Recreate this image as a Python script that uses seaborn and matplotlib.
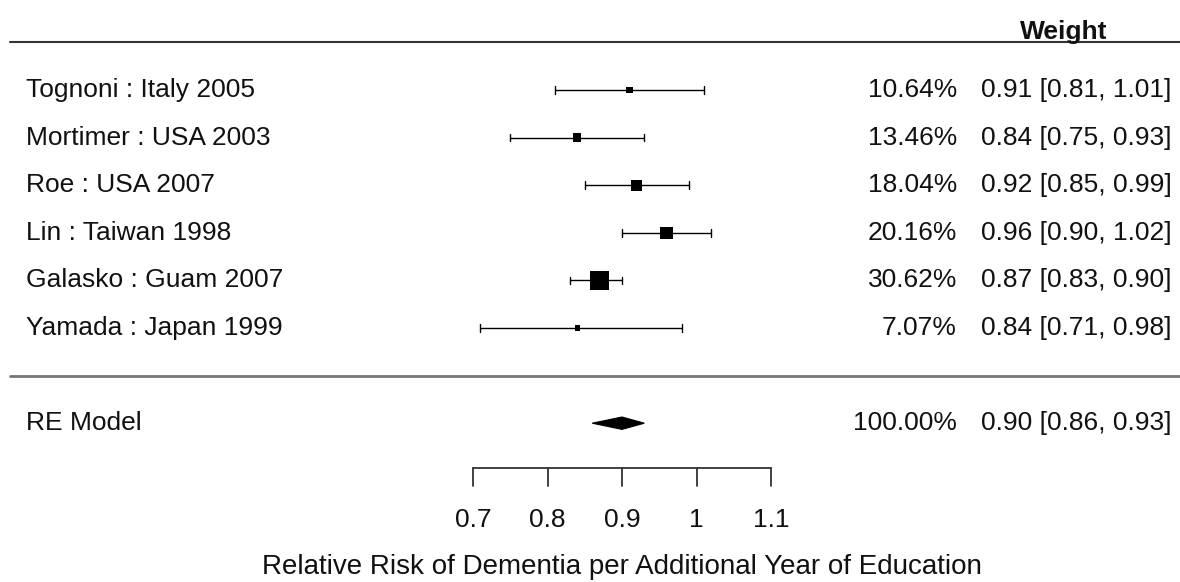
import matplotlib
matplotlib.use("Agg")
import matplotlib.pyplot as plt
import matplotlib.transforms as mtransforms
import seaborn as sns
import pandas as pd
import numpy as np

studies = ["Tognoni : Italy 2005", "Mortimer : USA 2003", "Roe : USA 2007",
           "Lin : Taiwan 1998", "Galasko : Guam 2007", "Yamada : Japan 1999"]
estimates = [0.91, 0.84, 0.92, 0.96, 0.87, 0.84]
ci_low = [0.81, 0.75, 0.85, 0.90, 0.83, 0.71]
ci_high = [1.01, 0.93, 0.99, 1.02, 0.90, 0.98]
weights = [10.64, 13.46, 18.04, 20.16, 30.62, 7.07]

re_label = "RE Model"
re_est, re_low, re_high, re_weight = 0.90, 0.86, 0.93, 100.00

tick_values = [0.7, 0.8, 0.9, 1.0, 1.1]
tick_labels = ["0.7", "0.8", "0.9", "1", "1.1"]
xlabel = "Relative Risk of Dementia per Additional Year of Education"

sns.set_theme(style="white")
plt.rcParams['font.family'] = ['Liberation Sans', 'DejaVu Sans']

df = pd.DataFrame({"study": studies, "est": estimates, "lo": ci_low,
                   "hi": ci_high, "w": weights})
df["row"] = np.arange(len(df))

fig = plt.figure(figsize=(11.8, 5.82), dpi=100)
ax = fig.add_axes([0, 0, 1, 1])
ax.set_axis_off()
px = 1.0 / 745.0
x0 = 0.7 - 473 * px
ax.set_xlim(x0, x0 + 1180 * px)
ax.set_ylim((582 - 90) / 47.6, -90 / 47.6)

trans = mtransforms.blended_transform_factory(ax.transAxes, ax.transData)
fs = 19
tc = "#111111"

# CI lines with end caps
for _, r in df.iterrows():
    ax.plot([r.lo, r.hi], [r.row, r.row], color="black", lw=1.0, solid_capstyle="butt")
    for xv in (r.lo, r.hi):
        ax.plot([xv, xv], [r.row - 0.08, r.row + 0.08], color="black", lw=1.0)

# squares, side proportional to weight
side_pt = 19 * 0.72 * df["w"] / df["w"].max()
sizes = np.maximum(side_pt, 3.8) ** 2
sns.scatterplot(data=df, x="est", y="row", marker="s", s=sizes, color="black",
                edgecolor="black", linewidth=0, ax=ax, legend=False, zorder=3)

# diamond for RE model
re_row = len(df) + 1
ax.fill([re_low, re_est, re_high, re_est], [re_row, re_row - 0.13, re_row, re_row + 0.13],
        color="black", lw=0.8, edgecolor="black", zorder=3)

# text columns
for _, r in df.iterrows():
    ax.text(0.022, r.row, r.study, transform=trans, ha="left", va="center", fontsize=fs, color=tc)
    ax.text(0.811, r.row, f"{r.w:.2f}%", transform=trans, ha="right", va="center", fontsize=fs, color=tc)
    ax.text(0.993, r.row, f"{r.est:.2f} [{r.lo:.2f}, {r.hi:.2f}]", transform=trans,
            ha="right", va="center", fontsize=fs, color=tc)
ax.text(0.022, re_row, re_label, transform=trans, ha="left", va="center", fontsize=fs, color=tc)
ax.text(0.811, re_row, f"{re_weight:.2f}%", transform=trans, ha="right", va="center", fontsize=fs, color=tc)
ax.text(0.993, re_row, f"{re_est:.2f} [{re_low:.2f}, {re_high:.2f}]", transform=trans,
        ha="right", va="center", fontsize=fs, color=tc)

# header
ax.text(0.9015, -1.22, "Weight", transform=trans, ha="center", va="center",
        fontsize=fs, fontweight="bold", color=tc)
ax.plot([0.0085, 1.0], [-1, -1], transform=trans, color="#333333", lw=1.5)
ax.plot([0.0085, 1.0], [len(df), len(df)], transform=trans, color="#777777", lw=2.0)

# x axis
axis_y = 7.94
ax.plot([tick_values[0], tick_values[-1]], [axis_y, axis_y], color="#333333", lw=1.3)
for tv, tl in zip(tick_values, tick_labels):
    ax.plot([tv, tv], [axis_y, axis_y + 0.38], color="#333333", lw=1.3)
    ax.text(tv, 9.03, tl, ha="center", va="center", fontsize=fs, color=tc)
ax.text(np.mean([tick_values[0], tick_values[-1]]), 10.02, xlabel, ha="center", va="center",
        fontsize=fs + 1, color=tc)

fig.savefig("out.png", dpi=100)
